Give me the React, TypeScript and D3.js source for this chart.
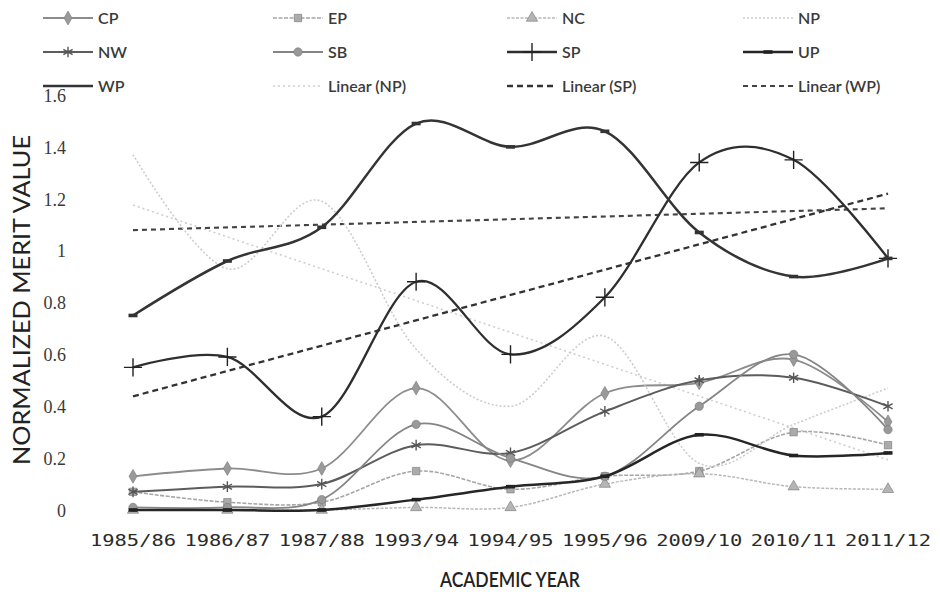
import { useEffect, useRef } from 'react'
import * as d3 from 'd3'

const years = ['1985/86', '1986/87', '1987/88', '1993/94', '1994/95', '1995/96', '2009/10', '2010/11', '2011/12']

const CP = [0.13, 0.16, 0.16, 0.47, 0.19, 0.45, 0.49, 0.58, 0.34]
const EP = [0.07, 0.03, 0.03, 0.15, 0.08, 0.13, 0.15, 0.30, 0.25]
const NC = [0.0, 0.0, 0.0, 0.01, 0.01, 0.10, 0.14, 0.09, 0.08]
const NP = [1.37, 0.93, 1.19, 0.62, 0.40, 0.67, 0.18, 0.33, 0.47]
const NW = [0.07, 0.09, 0.10, 0.25, 0.22, 0.38, 0.50, 0.51, 0.40]
const SB = [0.01, 0.01, 0.04, 0.33, 0.20, 0.13, 0.40, 0.60, 0.31]
const SP = [0.55, 0.59, 0.36, 0.88, 0.60, 0.82, 1.34, 1.35, 0.97]
const UP = [0.0, 0.0, 0.0, 0.04, 0.09, 0.13, 0.29, 0.21, 0.22]
const WP = [0.75, 0.96, 1.09, 1.49, 1.40, 1.46, 1.07, 0.90, 0.97]

const yTicks = [0, 0.2, 0.4, 0.6, 0.8, 1, 1.2, 1.4, 1.6]
const yTickLabels = ['0', '0.2', '0.4', '0.6', '0.8', '1', '1.2', '1.4', '1.6']

type Style = { stroke: string; width: number; dash?: string; marker?: string; mcolor?: string }

const series: { name: string; values: number[]; style: Style }[] = [
  { name: 'CP', values: CP, style: { stroke: '#8c8c8c', width: 1.8, marker: 'diamond', mcolor: '#9a9a9a' } },
  { name: 'EP', values: EP, style: { stroke: '#a6a6a6', width: 1.6, dash: '4,1.5', marker: 'square', mcolor: '#ababab' } },
  { name: 'NC', values: NC, style: { stroke: '#b8b8b8', width: 1.5, dash: '3,1.5', marker: 'triangle', mcolor: '#b5b5b5' } },
  { name: 'NP', values: NP, style: { stroke: '#cdcdcd', width: 1.6, dash: '2,2' } },
  { name: 'NW', values: NW, style: { stroke: '#5c5c5c', width: 2, marker: 'asterisk', mcolor: '#555' } },
  { name: 'SB', values: SB, style: { stroke: '#858585', width: 1.8, marker: 'circle', mcolor: '#999' } },
  { name: 'SP', values: SP, style: { stroke: '#2f2f2f', width: 2.3, marker: 'plus', mcolor: '#222' } },
  { name: 'UP', values: UP, style: { stroke: '#262626', width: 2.5, marker: 'dash', mcolor: '#222' } },
  { name: 'WP', values: WP, style: { stroke: '#343434', width: 2.5, marker: 'dash', mcolor: '#333' } },
]

const trends: { name: string; values: number[]; style: Style }[] = [
  { name: 'Linear (NP)', values: NP, style: { stroke: '#cfcfcf', width: 1.6, dash: '2,3' } },
  { name: 'Linear (SP)', values: SP, style: { stroke: '#333', width: 2.3, dash: '6,4' } },
  { name: 'Linear (WP)', values: WP, style: { stroke: '#444', width: 2.1, dash: '5,4' } },
]

// least squares trendline, like Excel's "Linear" trendline
function linearFit(v: number[]): [number, number] {
  const n = v.length
  const mx = (n - 1) / 2
  const my = d3.mean(v) ?? 0
  let num = 0, den = 0
  v.forEach((y, i) => { num += (i - mx) * (y - my); den += (i - mx) ** 2 })
  const b = num / den
  return [my - b * mx, b]
}

function drawMarker(g: d3.Selection<SVGGElement, unknown, null, undefined>, type: string | undefined, cx: number, cy: number, color: string) {
  if (!type) return
  const sy: any = d3 as any
  if (type === 'dash') {
    g.append('rect').attr('x', cx - 4.5).attr('y', cy - 1.8).attr('width', 9).attr('height', 3.6).attr('fill', color)
    return
  }
  const strokeTypes: Record<string, any> = {
    asterisk: sy.symbolAsterisk ?? d3.symbolCross,
    plus: sy.symbolPlus ?? d3.symbolCross,
  }
  const fillTypes: Record<string, any> = {
    diamond: d3.symbolDiamond,
    square: d3.symbolSquare,
    triangle: d3.symbolTriangle,
    circle: d3.symbolCircle,
  }
  if (strokeTypes[type]) {
    g.append('path')
      .attr('d', d3.symbol(strokeTypes[type], type === 'plus' ? 110 : 80)())
      .attr('transform', `translate(${cx},${cy})`)
      .attr('fill', 'none').attr('stroke', color).attr('stroke-width', 1.4)
  } else {
    g.append('path')
      .attr('d', d3.symbol(fillTypes[type], 55)())
      .attr('transform', `translate(${cx},${cy})`)
      .attr('fill', color).attr('stroke', '#777').attr('stroke-width', 0.6)
  }
}

export default function App() {
  const svgRef = useRef<SVGSVGElement>(null)

  useEffect(() => {
    document.body.style.margin = '0'
    if (!svgRef.current) return
    const svg = d3.select(svgRef.current)
    svg.selectAll('*').remove()

    const x = d3.scalePoint<string>().domain(years).range([133, 888])
    const y = d3.scaleLinear().domain([0, 1.6]).range([510, 95])

    // Y axis
    const yAxis = d3.axisLeft(y).tickValues(yTicks).tickSize(0).tickPadding(0)
      .tickFormat((_d, i) => yTickLabels[i])
    const ya = svg.append('g').attr('transform', 'translate(66,0)').call(yAxis)
    ya.select('.domain').remove()
    ya.selectAll('text').attr('font-family', '"Liberation Serif", serif').attr('font-size', 18)
      .attr('fill', '#3a3a3a').attr('dy', '0.35em')

    // X tick labels
    svg.append('g').selectAll('text').data(years).join('text')
      .attr('x', d => x(d)!).attr('y', 546)
      .attr('text-anchor', 'middle')
      .attr('font-family', '"DejaVu Sans Mono", monospace').attr('font-size', 16)
      .attr('textLength', 86).attr('lengthAdjust', 'spacingAndGlyphs')
      .attr('fill', '#2a2a2a')
      .text(d => d)

    // Axis titles
    svg.append('text').attr('x', 510).attr('y', 587).attr('text-anchor', 'middle')
      .attr('font-family', 'Lato, sans-serif').attr('font-size', 21).attr('font-weight', 600)
      .attr('textLength', 140).attr('lengthAdjust', 'spacingAndGlyphs')
      .attr('fill', '#222').text('ACADEMIC YEAR')
    svg.append('text').attr('transform', 'translate(30,300) rotate(-90)').attr('text-anchor', 'middle')
      .attr('font-family', 'Lato, sans-serif').attr('font-size', 23)
      .attr('textLength', 330).attr('lengthAdjust', 'spacingAndGlyphs')
      .attr('fill', '#222').text('NORMALIZED MERIT VALUE')

    const plot = svg.append('g')
    const line = d3.line<number>()
      .x((_d, i) => x(years[i])!)
      .y(d => y(d))
      .curve(d3.curveCardinal.tension(0))

    // trendlines
    trends.forEach(t => {
      const [a, b] = linearFit(t.values)
      const ends = [0, years.length - 1]
      plot.append('line')
        .attr('x1', x(years[ends[0]])!).attr('y1', y(a + b * ends[0]))
        .attr('x2', x(years[ends[1]])!).attr('y2', y(a + b * ends[1]))
        .attr('stroke', t.style.stroke).attr('stroke-width', t.style.width)
        .attr('stroke-dasharray', t.style.dash ?? null)
    })

    series.forEach(s => {
      plot.append('path').datum(s.values)
        .attr('fill', 'none')
        .attr('stroke', s.style.stroke).attr('stroke-width', s.style.width)
        .attr('stroke-dasharray', s.style.dash ?? null)
        .attr('d', line)
      const mg = plot.append('g')
      s.values.forEach((v, i) => drawMarker(mg, s.style.marker, x(years[i])!, y(v), s.style.mcolor ?? s.style.stroke))
    })

    // Legend, 4 columns x 3 rows
    const legendItems = [...series, ...trends]
    const colX = [43, 273, 507, 743]
    const rowY = [18, 52, 86]
    const lg = svg.append('g')
    legendItems.forEach((it, i) => {
      const cx = colX[i % 4]
      const cy = rowY[Math.floor(i / 4)]
      lg.append('line').attr('x1', cx).attr('x2', cx + 50).attr('y1', cy).attr('y2', cy)
        .attr('stroke', it.style.stroke).attr('stroke-width', it.style.width)
        .attr('stroke-dasharray', it.style.dash ?? null)
      if (it.name !== 'WP') drawMarker(lg, it.style.marker, cx + 25, cy, it.style.mcolor ?? it.style.stroke)
      lg.append('text').attr('x', cx + 55).attr('y', cy).attr('dy', '0.35em')
        .attr('font-family', 'Lato, sans-serif').attr('font-size', 16).attr('font-weight', 600)
        .attr('fill', '#3a3a3a').text(it.name)
    })
  }, [])

  return <svg ref={svgRef} width={940} height={592} style={{ display: 'block', background: '#fff' }} />
}
